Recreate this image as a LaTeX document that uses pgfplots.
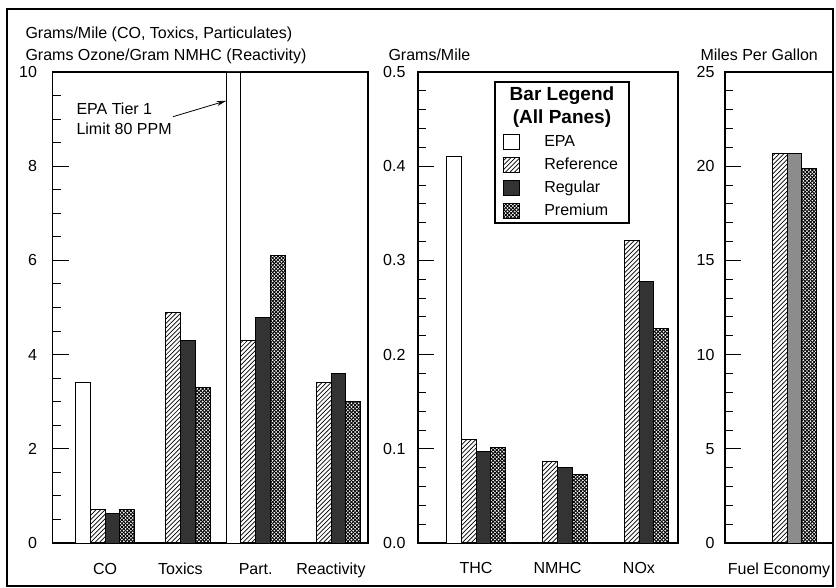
\documentclass[border=0pt]{standalone}
\usepackage{fontspec}
\setmainfont{Liberation Sans}
\usepackage{pgfplots}
\pgfplotsset{compat=1.18}
\usetikzlibrary{patterns,arrows.meta}

\pgfdeclarepatternformonly{refhatch}{\pgfqpoint{-1pt}{-1pt}}{\pgfqpoint{5.5pt}{5.5pt}}{\pgfqpoint{4.5pt}{4.5pt}}{%
  \pgfsetlinewidth{0.7pt}%
  \pgfpathmoveto{\pgfqpoint{0pt}{0pt}}\pgfpathlineto{\pgfqpoint{4.6pt}{4.6pt}}%
  \pgfusepath{stroke}}
\pgfdeclarepatternformonly{premhatch}{\pgfqpoint{-1pt}{-1pt}}{\pgfqpoint{4.6pt}{4.6pt}}{\pgfqpoint{3.6pt}{3.6pt}}{%
  \pgfsetlinewidth{0.85pt}%
  \pgfpathmoveto{\pgfqpoint{0pt}{0pt}}\pgfpathlineto{\pgfqpoint{3.7pt}{3.7pt}}%
  \pgfpathmoveto{\pgfqpoint{0pt}{3.6pt}}\pgfpathlineto{\pgfqpoint{3.6pt}{0pt}}%
  \pgfusepath{stroke}}

\newcommand{\tfont}{\fontsize{16bp}{19bp}\selectfont}

\pgfplotsset{
  pane/.style={
    scale only axis, anchor=south west,
    height=471bp, ymin=0,
    tick align=inside, ytick pos=left,
    xtick style={draw=none},
    major tick length=16bp, minor tick length=8bp,
    ytick style={line width=0.9bp, black},
    axis line style={line width=1.1bp},
    ybar, bar width=14.8bp,
    every tick label/.append style={font=\tfont},
    /pgf/number format/assume math mode=true,
    yticklabel style={xshift=-9bp},
    xticklabel style={anchor=base, yshift=-15bp},
    clip=false,
  },
  s epa/.style={draw=black, fill=white, line width=0.8bp, bar shift=-22.2bp},
  s ref/.style={draw=black, pattern=refhatch, line width=0.8bp, bar shift=-7.4bp},
  s reg/.style={draw=black, fill=black!80, line width=0.8bp, bar shift=7.4bp},
  s prem/.style={draw=black, pattern=premhatch, line width=0.8bp, bar shift=22.2bp},
}

\begin{document}
\begin{tikzpicture}
\useasboundingbox (0,0) rectangle (836bp,588bp);

% ---------- left pane ----------
\begin{axis}[pane, at={(52.5bp,45bp)}, width=315.5bp,
  xmin=-0.697, xmax=3.491, ymax=10,
  xtick={0,1,2,3}, xticklabels={CO,Toxics,Part.,Reactivity},
  ytick={0,2,4,6,8,10}, minor y tick num=3,
  yticklabel style={xshift=-3bp}]
\addplot[s epa] coordinates {(0,3.4) (2,10)};
\addplot[s ref] coordinates {(0,0.72) (1,4.9) (2,4.3) (3,3.4)};
\addplot[s reg] coordinates {(0,0.62) (1,4.3) (2,4.78) (3,3.6)};
\addplot[s prem] coordinates {(0,0.72) (1,3.3) (2,6.1) (3,3.0)};
\end{axis}

% ---------- middle pane ----------
\begin{axis}[pane, at={(418bp,45bp)}, width=260bp,
  xmin=-0.712, xmax=2.479, ymax=0.5,
  xtick={0,1,2}, xticklabels={THC,NMHC,NOx},
  ytick={0,0.1,0.2,0.3,0.4,0.5}, minor y tick num=4,
  yticklabel style={/pgf/number format/.cd, fixed, fixed zerofill, precision=1},
  legend cell align=left,
  legend style={draw=none, fill=none, inner sep=0pt, outer sep=0pt,
    at={(0.3269,0.8684)}, anchor=north west,
    row sep=7.3bp, column sep=25bp, font=\tfont,
    nodes={inner sep=0pt, text height=12bp, text depth=3.5bp}},
  legend image code/.code={\draw[#1] (0bp,-7.5bp) rectangle (15.5bp,7.5bp);}]
\addplot[s epa] coordinates {(0,0.41)};
\addplot[s ref] coordinates {(0,0.110) (1,0.087) (2,0.321)};
\addplot[s reg] coordinates {(0,0.097) (1,0.080) (2,0.278)};
\addplot[s prem] coordinates {(0,0.101) (1,0.073) (2,0.228)};
\legend{EPA,Reference,Regular,Premium}
\end{axis}

% ---------- right pane ----------
\begin{axis}[pane, at={(725bp,45bp)}, width=108bp,
  xmin=-0.775, xmax=0.575, ymax=25,
  xtick={-0.1}, xticklabels={Fuel Economy},
  ytick={0,5,10,15,20,25}, minor y tick num=4,
  yticklabel style={xshift=2bp}]
\addplot[s ref] coordinates {(0,20.7)};
\addplot[s reg, fill=black!45] coordinates {(0,20.7)};
\addplot[s prem] coordinates {(0,19.9)};
\end{axis}

% ---------- titles ----------
\node[anchor=base west, font=\tfont] at (22bp,549bp) {Grams/Mile (CO, Toxics, Particulates)};
\node[anchor=base west, font=\tfont] at (22bp,527bp) {Grams Ozone/Gram NMHC (Reactivity)};
\node[anchor=base west, font=\tfont] at (385bp,527bp) {Grams/Mile};
\node[anchor=base west, font=\tfont] at (697bp,527bp) {Miles Per Gallon};

% ---------- annotation ----------
\node[anchor=base west, font=\tfont] at (73bp,473bp) {EPA Tier 1};
\node[anchor=base west, font=\tfont] at (73bp,453bp) {Limit 80 PPM};
\draw[line width=0.8bp, -{Stealth[length=10bp,width=5bp]}] (173bp,471.3bp) -- (226.5bp,487.3bp);

% ---------- legend frame and title ----------
\draw[line width=1.2bp] (495bp,365bp) rectangle (629bp,506bp);
\node[font=\fontsize{19bp}{22bp}\selectfont\bfseries] at (562bp,492.5bp) {Bar Legend};
\node[font=\fontsize{19bp}{22bp}\selectfont\bfseries] at (562bp,469.5bp) {(All Panes)};

% ---------- outer frame ----------
\draw[line width=1.5bp] (7bp,2bp) rectangle (833bp,579bp);
\end{tikzpicture}
\end{document}
